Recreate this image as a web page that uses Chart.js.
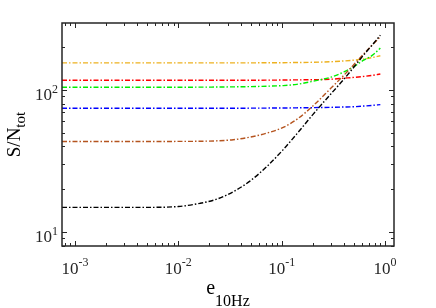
<!DOCTYPE html>
<html>
<head>
<meta charset="utf-8">
<script src="https://cdn.jsdelivr.net/npm/chart.js@4"></script>
<style>
  html, body { margin: 0; padding: 0; background: #fff; }
</style>
</head>
<body>
<canvas id="snChart" width="436" height="308"></canvas>
<script>
// --- Values ---
const eVals    = [0.00075, 0.001, 0.002, 0.005, 0.01, 0.0162, 0.0235, 0.034, 0.0493, 0.0716, 0.1035, 0.14, 0.2, 0.3, 0.4, 0.5, 0.62, 0.75, 0.9];
const snBlack  = [14.9, 14.9, 14.9, 14.9, 15.1, 15.9, 17.0, 19.2, 22.8, 28.8, 38, 49, 67, 94, 119, 145, 176, 207, 243];
const snBrown  = [43.3, 43.3, 43.3, 43.3, 43.4, 43.5, 43.8, 44.6, 46.5, 49.6, 54.5, 62, 77, 103, 127, 151, 179, 207, 237];
const snGreen  = [104.5, 104.5, 104.5, 104.5, 104.5, 104.6, 104.8, 105.1, 105.5, 106.2, 107.3, 109.5, 115, 123, 134, 146, 162, 175, 197];
const snOrange = [155, 155, 155, 155, 155, 155, 155, 155, 155.1, 155.3, 155.5, 156, 156.5, 158, 160, 162, 165, 169, 174];
const snRed    = [117, 117, 117, 117, 117, 117, 117, 117, 117, 117.2, 117.4, 117.7, 118, 119, 121, 122.5, 124.5, 126.5, 129.5];
const snBlue   = [74.3, 74.3, 74.3, 74.3, 74.3, 74.3, 74.3, 74.3, 74.4, 74.5, 74.6, 74.8, 75, 75.4, 75.8, 76.2, 77, 77.8, 78.8];

const xMajor = [1e-3, 1e-2, 1e-1, 1];
const yMajor = [10, 100];

const seriesList = [
  { data: snBlack,  color: "#000000" },
  { data: snBrown,  color: "#b5541f" },
  { data: snGreen,  color: "#00ee00" },
  { data: snOrange, color: "#edb120" },
  { data: snRed,    color: "#ff0000" },
  { data: snBlue,   color: "#0000ff" }
];

// --- helpers ---
function minorTicks(min, max) {
  const out = [];
  for (let p = Math.floor(Math.log10(min)); p <= Math.ceil(Math.log10(max)); p++) {
    for (let m = 1; m <= 9; m++) {
      const v = m * Math.pow(10, p);
      if (v >= min && v <= max) out.push({ v, major: m === 1 });
    }
  }
  return out;
}

function powLabel(ctx, exp, x, y, align, baseSize, supSize, supRise) {
  ctx.font = baseSize + "px 'Liberation Serif', 'Times New Roman', serif";
  const wb = ctx.measureText("10").width;
  ctx.font = supSize + "px 'Liberation Serif', 'Times New Roman', serif";
  const ws = ctx.measureText(String(exp)).width;
  const total = wb + ws;
  let x0 = align === "center" ? x - total / 2 : x - total;
  ctx.textAlign = "left";
  ctx.textBaseline = "alphabetic";
  ctx.font = baseSize + "px 'Liberation Serif', 'Times New Roman', serif";
  ctx.fillText("10", x0, y);
  ctx.font = supSize + "px 'Liberation Serif', 'Times New Roman', serif";
  ctx.fillText(String(exp), x0 + wb, y - supRise);
}

// --- frame, inward ticks and labels, MATLAB style ---
const matlabAxes = {
  id: "matlabAxes",
  afterDatasetsDraw(chart) {
    const { ctx, chartArea: a, scales: { x, y } } = chart;
    ctx.save();
    ctx.strokeStyle = "#262626";
    ctx.lineWidth = 1;
    ctx.beginPath();
    minorTicks(x.min, x.max).forEach(t => {
      const px = Math.round(x.getPixelForValue(t.v)) + 0.5;
      const len = t.major ? 5 : 3;
      ctx.moveTo(px, a.bottom); ctx.lineTo(px, a.bottom - len);
      ctx.moveTo(px, a.top); ctx.lineTo(px, a.top + len);
    });
    minorTicks(y.min, y.max).forEach(t => {
      const py = Math.round(y.getPixelForValue(t.v)) + 0.5;
      const len = t.major ? 5 : 3;
      ctx.moveTo(a.left, py); ctx.lineTo(a.left + len, py);
      ctx.moveTo(a.right, py); ctx.lineTo(a.right - len, py);
    });
    ctx.stroke();
    ctx.lineWidth = 1.5;
    ctx.strokeRect(a.left, a.top, a.right - a.left, a.bottom - a.top);

    ctx.fillStyle = "#262626";
    xMajor.forEach(v => {
      const px = x.getPixelForValue(v);
      powLabel(ctx, Math.round(Math.log10(v)), px, a.bottom + 28, "center", 17, 12, 8);
    });
    yMajor.forEach(v => {
      const py = y.getPixelForValue(v);
      powLabel(ctx, Math.round(Math.log10(v)), a.left - 4, py + 10, "right", 17, 12, 7);
    });

    // x title: e_10Hz
    ctx.fillStyle = "#000";
    ctx.font = "20px 'Liberation Serif', serif";
    const we = ctx.measureText("e").width;
    ctx.font = "16px 'Liberation Serif', serif";
    const wsub = ctx.measureText("10Hz").width;
    const cx = (a.left + a.right) / 2;
    let sx = cx - (we + wsub) / 2;
    ctx.textAlign = "left";
    ctx.font = "20px 'Liberation Serif', serif";
    ctx.fillText("e", sx, 294);
    ctx.font = "16px 'Liberation Serif', serif";
    ctx.fillText("10Hz", sx + we, 306);

    // y title: S/N_tot
    ctx.font = "19px 'Liberation Serif', serif";
    const wsn = ctx.measureText("S/N").width;
    ctx.font = "15px 'Liberation Serif', serif";
    const wtot = ctx.measureText("tot").width;
    const cy = (a.top + a.bottom) / 2;
    ctx.translate(20, cy + (wsn + wtot) / 2);
    ctx.rotate(-Math.PI / 2);
    ctx.font = "19px 'Liberation Serif', serif";
    ctx.fillText("S/N", 0, 0);
    ctx.font = "15px 'Liberation Serif', serif";
    ctx.fillText("tot", wsn, 5);
    ctx.restore();
  }
};

// --- Chart.js setup ---
const ctx = document.getElementById("snChart").getContext("2d");

const chart = new Chart(ctx, {
  type: "line",
  data: {
    datasets: seriesList.map(s => ({
      data: eVals.map((e, i) => ({ x: e, y: s.data[i] })),
      borderColor: s.color,
      borderWidth: 1.4,
      borderDash: [5, 2, 1.5, 2],
      pointRadius: 0,
      fill: false,
      cubicInterpolationMode: "monotone"
    }))
  },
  options: {
    responsive: false,
    animation: false,
    devicePixelRatio: 1,
    layout: { padding: { left: 62, right: 42, top: 23, bottom: 62 } },
    plugins: { legend: { display: false }, tooltip: { enabled: false } },
    scales: {
      x: {
        type: "logarithmic",
        min: 0.00075,
        max: 1.22,
        ticks: { display: false },
        grid: { display: false, drawTicks: false },
        border: { display: false }
      },
      y: {
        type: "logarithmic",
        min: 7.96,
        max: 296,
        ticks: { display: false },
        grid: { display: false, drawTicks: false },
        border: { display: false }
      }
    }
  },
  plugins: [matlabAxes]
});
</script>
</body>
</html>
